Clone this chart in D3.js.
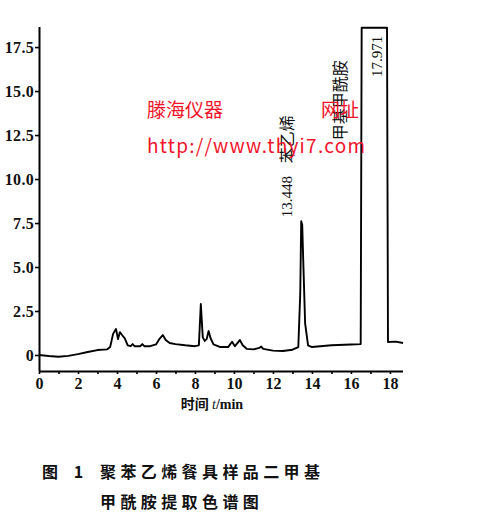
<!DOCTYPE html>
<html><head><meta charset="utf-8">
<script src="https://cdn.jsdelivr.net/npm/d3@7"></script>
<style>
html,body{margin:0;padding:0;background:#fff;}
svg{display:block;}
</style></head>
<body>
<script>
// ---- data ----
const times = [0, 0.5, 1.0, 1.5, 2.0, 2.5, 3.0, 3.5, 3.65, 3.8, 3.95, 4.05, 4.15, 4.25, 4.4, 4.55, 4.7, 4.8, 4.9, 5.2, 5.3, 5.4, 5.7, 6.0, 6.2, 6.35, 6.5, 6.7, 7.0, 7.5, 8.0, 8.2, 8.3, 8.4, 8.5, 8.6, 8.7, 8.8, 8.95, 9.3, 9.7, 9.9, 10.05, 10.2, 10.3, 10.45, 10.65, 11.0, 11.3, 11.4, 11.5, 12.0, 12.5, 13.0, 13.3, 13.4, 13.45, 13.5, 13.55, 13.65, 13.8, 14.0, 15.0, 16.0, 16.5, 16.55, 17.85, 17.9, 18.3, 18.67];
const signal = [0.0, -0.06, -0.1, -0.05, 0.05, 0.17, 0.28, 0.32, 0.45, 1.2, 1.48, 0.9, 1.3, 1.15, 0.95, 0.55, 0.5, 0.62, 0.5, 0.5, 0.62, 0.5, 0.5, 0.6, 0.95, 1.13, 0.85, 0.68, 0.62, 0.55, 0.5, 0.55, 2.9, 1.0, 0.8, 0.9, 1.36, 0.95, 0.6, 0.45, 0.45, 0.75, 0.5, 0.7, 0.85, 0.55, 0.35, 0.32, 0.4, 0.48, 0.35, 0.25, 0.23, 0.3, 0.45, 3.5, 7.6, 7.4, 5.5, 1.8, 0.55, 0.45, 0.55, 0.6, 0.62, 18.6, 18.6, 0.74, 0.76, 0.68];
const yTicks = [0, 2.5, 5.0, 7.5, 10.0, 12.5, 15.0, 17.5];
const yTickLabels = ["0", "2.5", "5.0", "7.5", "10.0", "12.5", "15.0", "17.5"];
const xMajor = [0, 2, 4, 6, 8, 10, 12, 14, 16, 18];
const xMinor = [1, 3, 5, 7, 9, 11, 13, 15, 17];
const peakTimes = [13.448, 17.971];
const peakLabels = ["13.448", "17.971"];
const compoundNames = ["苯乙烯", "甲基甲酰胺"];
const xTitle = ["时间 ", "t", "/min"];
const figNo = "图 1";
const captionLines = ["聚苯乙烯餐具样品二甲基", "甲酰胺提取色谱图"];
const watermark = ["滕海仪器", "网址", "http://www.thyi7.com"];

// ---- layout ----
const W = 478, H = 520;
const svg = d3.select("body").append("svg").attr("width", W).attr("height", H);

const x = d3.scaleLinear().domain([0, 18.67]).range([39, 403]);
const y = d3.scaleLinear().domain([-0.91, 18.64]).range([371, 27]);

const serif = "'Liberation Serif','DejaVu Serif',serif";

// y axis
const yAxis = d3.axisLeft(y).tickValues(yTicks)
  .tickFormat((d, i) => yTickLabels[i]).tickSize(4).tickPadding(1);
const gy = svg.append("g").attr("transform", `translate(${x(0)},0)`).call(yAxis);
gy.select(".domain").attr("stroke", "#000").attr("stroke-width", 2).attr("d", `M0.5,${y.range()[1]}V${y.range()[0]}`);
gy.selectAll(".tick line").attr("stroke", "#000").attr("stroke-width", 1.6);
gy.selectAll(".tick text").attr("font-family", serif).attr("font-size", 16)
  .attr("font-weight", "bold").attr("fill", "#111").attr("letter-spacing", "0.3px");

// x axis
const xAxis = d3.axisBottom(x).tickValues(xMajor).tickSize(3).tickPadding(4).tickFormat(d3.format("d"));
const gx = svg.append("g").attr("transform", `translate(0,${y.range()[0]})`).call(xAxis);
gx.select(".domain").attr("stroke", "#000").attr("stroke-width", 2).attr("d", `M${x.range()[0]},0.5H${x.range()[1]}`);
gx.selectAll(".tick line").attr("stroke", "#000").attr("stroke-width", 1.6);
gx.selectAll(".tick text").attr("font-family", serif).attr("font-size", 16)
  .attr("font-weight", "bold").attr("fill", "#111");
const gxm = svg.append("g").attr("transform", `translate(0,${y.range()[0]})`)
  .call(d3.axisBottom(x).tickValues(xMinor).tickSize(3).tickFormat(""));
gxm.select(".domain").remove();
gxm.selectAll(".tick line").attr("stroke", "#000").attr("stroke-width", 1.6);

// x title
const xt = svg.append("text").attr("x", 212).attr("y", 409).attr("text-anchor", "middle")
  .attr("font-family", "'Noto Sans CJK SC',sans-serif").attr("font-size", 14)
  .attr("font-weight", "bold").attr("fill", "#111");
xt.append("tspan").text(xTitle[0]);
xt.append("tspan").text(xTitle[1]).attr("font-family", serif).attr("font-style", "italic").attr("font-weight", "normal");
xt.append("tspan").text(xTitle[2]).attr("font-family", serif);

// trace
const pts = times.map((t, i) => [t, signal[i]]);
svg.append("path").datum(pts)
  .attr("d", d3.line().x(d => x(d[0])).y(d => y(d[1])))
  .attr("fill", "none").attr("stroke", "#000").attr("stroke-width", 1.9)
  .attr("stroke-linejoin", "round");

// peak annotations (rotated)
const rot = (cx, cy, txt, opts) => {
  const t = svg.append("text").attr("transform", `translate(${cx},${cy}) rotate(-90)`)
    .attr("text-anchor", "start").attr("dy", "0.35em").text(txt).attr("fill", "#111");
  Object.entries(opts).forEach(([k, v]) => t.attr(k, v));
  return t;
};
rot(x(peakTimes[0]) - 14, y(7.6) - 4, peakLabels[0], {"font-family": serif, "font-size": 15});
rot(x(peakTimes[0]) - 14, y(10.9), compoundNames[0], {"font-family": "'Noto Sans CJK SC',sans-serif", "font-size": 16});
rot(x(16.6) - 22, y(12.2), compoundNames[1], {"font-family": "'Noto Sans CJK SC',sans-serif", "font-size": 16});
rot(x(17.2) + 2, y(15.8), peakLabels[1], {"font-family": serif, "font-size": 15});

// watermark
const wm = {"font-family": "'Noto Sans CJK SC','Noto Sans',sans-serif", "font-size": 19, "fill": "#f0142a"};
const w1 = svg.append("text").attr("x", 147).attr("y", 117).text(watermark[0]);
const w2 = svg.append("text").attr("x", 321).attr("y", 117).text(watermark[1]);
const w3 = svg.append("text").attr("x", 147).attr("y", 153).text(watermark[2]).attr("textLength", 218);
[w1, w2, w3].forEach(t => Object.entries(wm).forEach(([k, v]) => t.attr(k, v)));

// caption
const cap = {"font-family": "'Noto Sans CJK SC',sans-serif", "font-size": 16, "font-weight": "bold", "fill": "#111"};
const c0 = svg.append("text").attr("x", 42).attr("y", 478).text(figNo).attr("letter-spacing", "6px");
const c1 = svg.append("text").attr("x", 100).attr("y", 478).text(captionLines[0]).attr("letter-spacing", "4.4px");
const c2 = svg.append("text").attr("x", 100).attr("y", 508).text(captionLines[1]).attr("letter-spacing", "4.4px");
[c0, c1, c2].forEach(t => Object.entries(cap).forEach(([k, v]) => t.attr(k, v)));
</script>
</body></html>
